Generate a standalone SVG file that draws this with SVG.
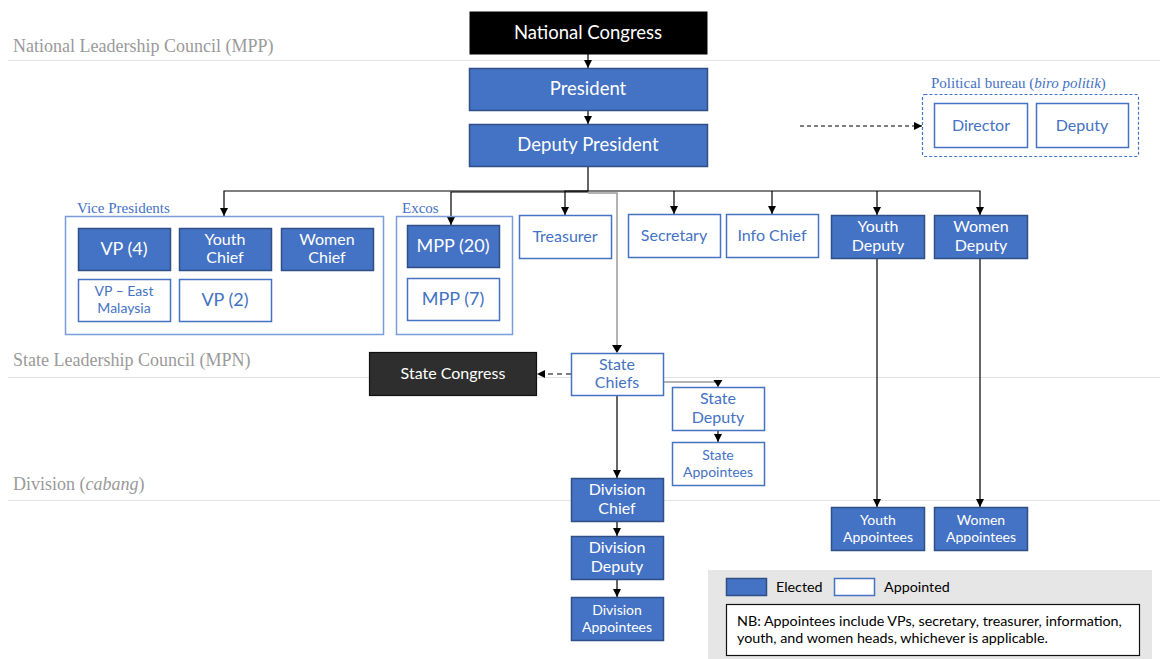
<svg xmlns="http://www.w3.org/2000/svg" width="1160" height="659" viewBox="0 0 1160 659">
<defs>
<marker id="ah" viewBox="0 0 10 10" refX="10" refY="5" markerWidth="8" markerHeight="8" markerUnits="userSpaceOnUse" orient="auto"><path d="M0,0 L10,5 L0,10 z" fill="#000"/></marker>
<style>
.lvl{font-family:"Liberation Serif",serif;font-size:18px;fill:#9a9a9a}
.sep{stroke:#e3e3e3;stroke-width:1.2}
.el{fill:#4472C4;stroke:#2F4F86;stroke-width:1.5}
.ap{fill:#fff;stroke:#4472C4;stroke-width:1.5}
.grp{fill:none;stroke:#7A9CD8;stroke-width:1.5}
.tw{font-family:Lato,"Liberation Sans",sans-serif;fill:#fff;text-anchor:middle}
.tb{font-family:Lato,"Liberation Sans",sans-serif;fill:#4472C4;text-anchor:middle}
.gl{font-family:"Liberation Serif",serif;font-size:15px;fill:#4472C4}
.c{fill:none;stroke:#000;stroke-width:1.2}
.cg{fill:none;stroke:#9a9a9a;stroke-width:1.5}
.leg{font-family:Lato,"Liberation Sans",sans-serif;font-size:14.3px;fill:#000}
</style>
</defs>
<rect width="1160" height="659" fill="#fff"/>
<!-- level separators -->
<line class="sep" x1="8" y1="60.5" x2="1160" y2="60.5"/>
<line class="sep" x1="8" y1="377.5" x2="1160" y2="377.5"/>
<line class="sep" x1="8" y1="500.5" x2="1160" y2="500.5"/>
<text class="lvl" x="13" y="52">National Leadership Council (MPP)</text>
<text class="lvl" x="13" y="366">State Leadership Council (MPN)</text>
<text class="lvl" x="13" y="490">Division (<tspan font-style="italic">cabang</tspan>)</text>

<!-- connectors -->
<g id="connectors">
<line class="c" x1="588" y1="54" x2="588" y2="68" marker-end="url(#ah)"/>
<line class="c" x1="588" y1="110" x2="588" y2="124" marker-end="url(#ah)"/>
<polyline class="c" points="588,166 588,191 224,191 224,216" marker-end="url(#ah)"/>
<polyline class="c" points="588,192 451,192 451,225" marker-end="url(#ah)"/>
<polyline class="c" points="588,191 565,191 565,215" marker-end="url(#ah)"/>
<polyline class="c" points="588,191 980,191 980,215" marker-end="url(#ah)"/>
<line class="c" x1="674" y1="191" x2="674" y2="214" marker-end="url(#ah)"/>
<line class="c" x1="772" y1="191" x2="772" y2="214" marker-end="url(#ah)"/>
<line class="c" x1="877" y1="191" x2="877" y2="215" marker-end="url(#ah)"/>
<polyline class="cg" points="588,193 617,193 617,346"/>
<path d="M612,345 L622,345 L617,353 z" fill="#000"/>
<line class="c" x1="877" y1="258" x2="877" y2="507" marker-end="url(#ah)"/>
<line class="c" x1="980" y1="258" x2="980" y2="507" marker-end="url(#ah)"/>
<line class="c" x1="571" y1="374" x2="537" y2="374" stroke-dasharray="5,4" marker-end="url(#ah)"/>
<polyline class="cg" points="663,382 718,382 718,387" stroke-width="1.2"/>
<path d="M713.5,380 L722.5,380 L718,387 z" fill="#000"/>
<line class="c" x1="718" y1="430" x2="718" y2="442" marker-end="url(#ah)"/>
<line class="c" x1="617" y1="395" x2="617" y2="478" marker-end="url(#ah)"/>
<line class="c" x1="617" y1="521" x2="617" y2="536" marker-end="url(#ah)"/>
<line class="c" x1="617" y1="579" x2="617" y2="597" marker-end="url(#ah)"/>
<line class="c" x1="800" y1="126" x2="922" y2="126" stroke-dasharray="4,3" marker-end="url(#ah)"/>
</g>

<!-- national -->
<g id="national-congress"><rect x="469.5" y="11.5" width="238" height="43" fill="#000"/><text class="tw" x="588" y="39" font-size="18.5">National Congress</text></g>
<g id="president"><rect class="el" x="469.5" y="68.5" width="238" height="42"/><text class="tw" x="588" y="95" font-size="18.5">President</text></g>
<g id="deputy-president"><rect class="el" x="469.5" y="124.5" width="238" height="42"/><text class="tw" x="588" y="151" font-size="18.5">Deputy President</text></g>

<!-- political bureau -->
<g id="political-bureau">
<text class="gl" x="931" y="88">Political bureau (<tspan font-style="italic">biro politik</tspan>)</text>
<rect x="922.5" y="94.5" width="216" height="62" rx="2" fill="none" stroke="#4472C4" stroke-width="1.2" stroke-dasharray="3,2"/>
</g>
<g id="pb-director"><rect class="ap" x="934.5" y="103.5" width="93" height="44"/><text class="tb" x="981" y="131" font-size="16">Director</text></g>
<g id="pb-deputy"><rect class="ap" x="1036.5" y="103.5" width="92" height="44"/><text class="tb" x="1082" y="131" font-size="16">Deputy</text></g>

<!-- vice presidents -->
<g id="vice-presidents">
<text class="gl" x="77" y="213">Vice Presidents</text>
<rect class="grp" x="65.5" y="216.5" width="318" height="118"/>
</g>
<g id="vp4"><rect class="el" x="78.5" y="228.5" width="92" height="42"/><text class="tw" x="124" y="255" font-size="18">VP (4)</text></g>
<g id="youth-chief"><rect class="el" x="179.5" y="228.5" width="92" height="42"/><text class="tw" x="225" y="245" font-size="16">Youth</text><text class="tw" x="225" y="263" font-size="16">Chief</text></g>
<g id="women-chief"><rect class="el" x="281.5" y="228.5" width="92" height="42"/><text class="tw" x="327" y="245" font-size="16">Women</text><text class="tw" x="327" y="263" font-size="16">Chief</text></g>
<g id="vp-east"><rect class="ap" x="78.5" y="279.5" width="92" height="42"/><text class="tb" x="124" y="296" font-size="14">VP – East</text><text class="tb" x="124" y="313" font-size="14">Malaysia</text></g>
<g id="vp2"><rect class="ap" x="179.5" y="279.5" width="92" height="42"/><text class="tb" x="225" y="306" font-size="18">VP (2)</text></g>

<!-- excos -->
<g id="excos">
<text class="gl" x="402" y="213">Excos</text>
<rect class="grp" x="396.5" y="216.5" width="116" height="118"/>
</g>
<g id="mpp20"><rect class="el" x="407.5" y="225.5" width="92" height="42"/><text class="tw" x="453" y="252" font-size="18">MPP (20)</text></g>
<g id="mpp7"><rect class="ap" x="407.5" y="278.5" width="92" height="42"/><text class="tb" x="453" y="305" font-size="18">MPP (7)</text></g>

<g id="treasurer"><rect class="ap" x="519.5" y="215.5" width="92" height="43"/><text class="tb" x="565" y="242" font-size="16">Treasurer</text></g>
<g id="secretary"><rect class="ap" x="628.5" y="214.5" width="92" height="43"/><text class="tb" x="674" y="241" font-size="16">Secretary</text></g>
<g id="info-chief"><rect class="ap" x="726.5" y="214.5" width="92" height="43"/><text class="tb" x="772" y="241" font-size="16">Info Chief</text></g>
<g id="youth-deputy"><rect class="el" x="831.5" y="215.5" width="93" height="43"/><text class="tw" x="878" y="232" font-size="16">Youth</text><text class="tw" x="878" y="251" font-size="16">Deputy</text></g>
<g id="women-deputy"><rect class="el" x="934.5" y="215.5" width="93" height="43"/><text class="tw" x="981" y="232" font-size="16">Women</text><text class="tw" x="981" y="251" font-size="16">Deputy</text></g>

<!-- state -->
<g id="state-congress"><rect x="369.5" y="352.5" width="167" height="43" fill="#2E2E2E" stroke="#111" stroke-width="1.2"/><text class="tw" x="453" y="379" font-size="16">State Congress</text></g>
<g id="state-chiefs"><rect class="ap" x="571.5" y="353.5" width="92" height="42"/><text class="tb" x="617" y="370" font-size="16">State</text><text class="tb" x="617" y="388" font-size="16">Chiefs</text></g>
<g id="state-deputy"><rect class="ap" x="672.5" y="387.5" width="92" height="43"/><text class="tb" x="718" y="404" font-size="16">State</text><text class="tb" x="718" y="423" font-size="16">Deputy</text></g>
<g id="state-appointees"><rect class="ap" x="672.5" y="442.5" width="92" height="43"/><text class="tb" x="718" y="460" font-size="14">State</text><text class="tb" x="718" y="477" font-size="14">Appointees</text></g>

<!-- division -->
<g id="division-chief"><rect class="el" x="571.5" y="478.5" width="92" height="43"/><text class="tw" x="617" y="495" font-size="16">Division</text><text class="tw" x="617" y="514" font-size="16">Chief</text></g>
<g id="division-deputy"><rect class="el" x="571.5" y="536.5" width="92" height="43"/><text class="tw" x="617" y="553" font-size="16">Division</text><text class="tw" x="617" y="572" font-size="16">Deputy</text></g>
<g id="division-appointees"><rect class="el" x="571.5" y="597.5" width="92" height="43"/><text class="tw" x="617" y="615" font-size="14">Division</text><text class="tw" x="617" y="632" font-size="14">Appointees</text></g>
<g id="youth-appointees"><rect class="el" x="831.5" y="507.5" width="93" height="43"/><text class="tw" x="878" y="525" font-size="14">Youth</text><text class="tw" x="878" y="542" font-size="14">Appointees</text></g>
<g id="women-appointees"><rect class="el" x="934.5" y="507.5" width="93" height="43"/><text class="tw" x="981" y="525" font-size="14">Women</text><text class="tw" x="981" y="542" font-size="14">Appointees</text></g>

<!-- legend -->
<g id="legend">
<rect x="708" y="570" width="444" height="89" fill="#E7E6E6"/>
<rect class="el" x="726.5" y="578.5" width="40" height="17"/>
<text class="leg" x="776" y="592" font-size="13.5">Elected</text>
<rect class="ap" x="834.5" y="578.5" width="40" height="17"/>
<text class="leg" x="884" y="592" font-size="13.5">Appointed</text>
<rect x="726.5" y="604.5" width="413" height="51" fill="#fff" stroke="#111" stroke-width="1.2"/>
<text class="leg" x="737" y="626">NB: Appointees include VPs, secretary, treasurer, information,</text>
<text class="leg" x="737" y="643">youth, and women heads, whichever is applicable.</text>
</g>
</svg>
